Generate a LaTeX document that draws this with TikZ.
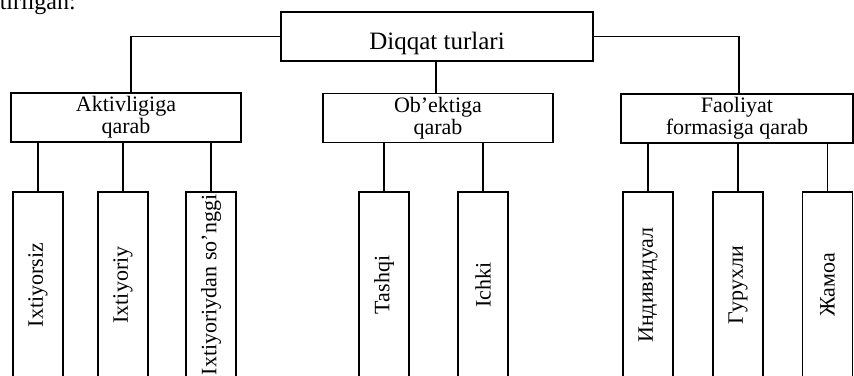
\documentclass[tikz,border=0pt]{standalone}
\usepackage{fontspec}
\setmainfont{Liberation Serif}
\begin{document}
\begin{tikzpicture}[x=1pt,y=-1pt,
  box/.style={draw, line width=1.1pt, inner sep=0pt, align=center,
    font=\fontsize{22}{22}\selectfont},
  topbox/.style={box, minimum width=312pt, minimum height=49pt,
    font=\fontsize{25}{25}\selectfont, text height=26pt, text depth=0pt},
  midbox/.style={box, minimum height=49pt},
  leaf/.style={box, minimum width=50pt, minimum height=186pt},
  leaftext/.style={rotate=90, font=\fontsize{22}{22}\selectfont, inner sep=0pt},
  conn/.style={line width=1.1pt}]
\useasboundingbox (0,0) rectangle (854,375);
\clip (0,0) rectangle (854,375);
% fragment of page text above
\node[anchor=base east, font=\fontsize{24}{24}\selectfont, inner sep=0pt] (frag) at (76,9) {tirilgan:};
% top
\node[topbox] (top) at (437,36.5) {Diqqat turlari};
% second level
\node[midbox, minimum width=230pt] (akt) at (126,117.5) {Aktivligiga\\qarab};
\node[midbox, minimum width=230pt] (obe) at (438,118) {Ob'ektiga\\qarab};
\node[midbox, minimum width=232pt] (fao) at (737,118.5) {Faoliyat\\formasiga qarab};
% leaves
\node[leaf] (l1) at (38,285) {};
\node[leaf] (l2) at (123,285) {};
\node[leaf] (l3) at (211,285) {};
\node[leaf] (l4) at (384,285) {};
\node[leaf] (l5) at (483,285) {};
\node[leaf] (l6) at (648,285) {};
\node[leaf] (l7) at (738,285) {};
\node[leaf] (l8) at (827.5,285) {};
\node[leaftext] (t1) at (l1) {Ixtiyorsiz};
\node[leaftext] (t2) at (l2) {Ixtiyoriy};
\node[leaftext] (t3) at (l3) {Ixtiyoriydan so'nggi};
\node[leaftext] (t4) at (l4) {Tashqi};
\node[leaftext] (t5) at (l5) {Ichki};
\node[leaftext] (t6) at (l6) {Индивидуал};
\node[leaftext] (t7) at (l7) {Гурухли};
\node[leaftext] (t8) at (l8) {Жамоа};
% connectors
\draw[conn] (top.west) -| ([xshift=5pt]akt.north);
\draw[conn] (top.east) -| ([xshift=2pt]fao.north);
\draw[conn] ([xshift=-1pt]top.south) -- ([xshift=-1pt]top.south |- obe.north);
\foreach \l/\p in {l1/akt,l2/akt,l3/akt,l4/obe,l5/obe,l6/fao,l7/fao,l8/fao}{
  \draw[conn] (\l.north) -- (\l.north |- \p.south);
}
\end{tikzpicture}
\end{document}
